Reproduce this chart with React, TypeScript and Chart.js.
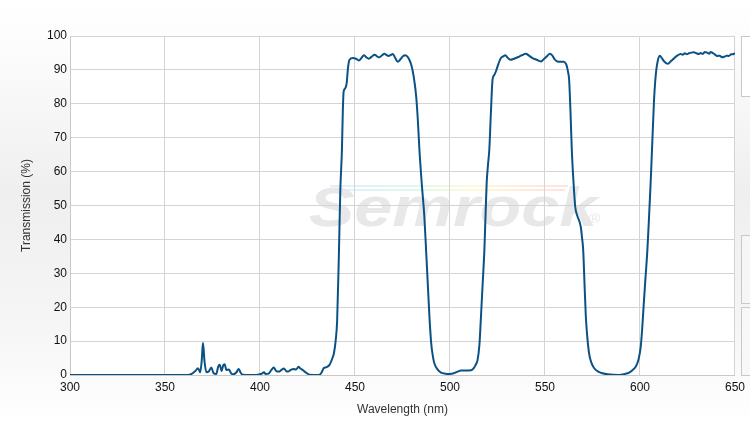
import React, { useEffect, useRef } from "react";
import { Chart, registerables } from "chart.js";

Chart.register(...registerables);

const wavelengths: number[] = [
  300, 362, 364, 366, 367.4, 368.5, 369.3, 370, 370.8, 371.8, 373, 374.4, 375.6, 377, 378, 378.8, 379.8, 380.6, 381.4, 382.3,
  383.7, 384.8, 386, 387.6, 388.8, 389.9, 391, 398, 400, 401.2, 402.1, 403, 404.5, 406, 407.2, 408.5, 409.9, 411.3, 412.6, 413.7,
  414.7, 416.2, 417.7, 418.9, 420.3, 421.3, 422.4, 423.5, 424.5, 426, 431, 432.5, 433.5, 435, 436.6, 437.8, 438.9, 439.8, 440.6, 441.5,
  442.3, 443.1, 443.6, 444, 444.8, 445.6, 446.3, 447.1, 448.9, 450.5, 452, 453.5, 454.7, 456, 457.3, 458.8, 460.3, 461.6, 462.9, 464.2,
  465.5, 466.6, 467.6, 468.8, 469.9, 471.2, 472.5, 474, 475.2, 476.5, 477.6, 478.6, 479.6, 480.4, 481.3, 482.2, 483.1, 483.9, 485.2, 486.5,
  487.4, 488.3, 489.2, 490.1, 491, 491.8, 493.5, 495.3, 497.5, 499.7, 502, 504, 505.8, 508, 511.1, 512.5, 513.5, 514.5, 515.5, 516.3,
  517.2, 518.1, 518.7, 519.3, 520, 520.7, 521.5, 522.4, 523.3, 524.2, 525.5, 526.8, 528, 529.1, 530.5, 531.9, 533.3, 534.7, 536, 537.3,
  538.6, 539.9, 541.6, 543.4, 545.6, 547.8, 548.9, 550, 551.3, 552.5, 553.8, 555, 556.5, 558.3, 560, 561, 561.5, 562.1, 562.7, 563.4,
  564.1, 565, 565.9, 567, 568.8, 569.5, 570.1, 570.8, 571.5, 572.3, 573.2, 574.5, 575.9, 578, 580.3, 583, 589, 592, 594.3, 596,
  597.8, 599.2, 600.4, 601.2, 602.1, 603, 603.9, 604.8, 605.6, 606.5, 607.4, 608, 608.6, 609.4, 610.4, 611.5, 612.7, 613.7, 614.7, 616.3,
  617.9, 619.6, 621.4, 622.5, 623.6, 624.7, 625.8, 627, 628.4, 629.7, 631, 632, 633, 634.2, 635.3, 636.5, 637.2, 638, 639.3, 640.6,
  641.9, 643.2, 644.5, 645.6, 646.7, 648, 649.4, 650,
];

const transmission: number[] = [
  0, 0, 0.3, 1.2, 2, 0.8, 4, 9.5, 4, 0.8, 1, 2.2, 0.5, 0.3, 2.5, 3, 1.2, 2.8, 3.2, 1.5,
  1.6, 0.5, 0.2, 0.8, 1.8, 0.6, 0.1, 0, 0.2, 0.5, 0.8, 0.3, 0.4, 1.5, 2.2, 1.2, 1, 1.5, 1.9, 1.2,
  1, 1.5, 1.8, 1.6, 2.4, 1.9, 1.5, 1, 0.6, 0.1, 0, 0.8, 2.0, 2.3, 3, 4.5, 6.4, 10, 16, 35,
  55, 66, 78, 83.5, 84.5, 86, 90.5, 93, 93.5, 93.3, 92.8, 93.6, 94.3, 93.7, 93.3, 93.9, 94.5, 94, 93.7, 94.3,
  94.8, 94.4, 94.1, 94.4, 94.7, 93.5, 92.4, 93.2, 94, 94.3, 93.9, 93, 91.5, 89.6, 86.5, 82.2, 75, 66.5, 56, 46.8,
  37, 27, 17, 9.4, 5.5, 3.4, 1.6, 0.7, 0.4, 0.3, 0.5, 1, 1.3, 1.3, 1.4, 2, 3, 4.4, 9, 17.2,
  27, 36.9, 47, 56.6, 62, 66.5, 77, 87.1, 88.5, 89.6, 91.8, 93.5, 94, 94.3, 93.5, 93, 93.2, 93.5, 93.8, 94.2,
  94.5, 94.8, 94.2, 93.5, 93, 92.5, 92.9, 93.5, 94.2, 94.8, 94.3, 93.2, 92.5, 92.4, 92.4, 91.8, 91.1, 89.5, 87.1, 78,
  66.5, 57, 49.7, 47, 43.8, 40.5, 36.9, 27, 17.2, 11, 6.4, 3.5, 2, 1, 0.5, 0.2, 0, 0.3, 0.7, 1.4,
  2.5, 4.5, 8.4, 14, 22, 29.5, 37, 47, 56.6, 69, 81.2, 86.5, 90.1, 92.8, 94.2, 93.5, 92.5, 92, 91.8, 92.6,
  93.4, 94.2, 94.7, 94.5, 94.9, 94.6, 94.9, 95.1, 95.2, 94.9, 94.7, 95, 94.7, 95.3, 95.1, 94.8, 95.3, 95.1, 94.6, 94.1,
  94.2, 93.7, 93.9, 94.2, 94.1, 94.6, 94.7, 95,
];

const xTickValues: number[] = [300, 350, 400, 450, 500, 550, 600, 650];
const yTickValues: number[] = [0, 10, 20, 30, 40, 50, 60, 70, 80, 90, 100];

const backgroundPlugin = {
  id: "bgPlugin",
  beforeDraw(chart: any) {
    const { ctx, width, height, chartArea } = chart;
    ctx.save();
    const g = ctx.createLinearGradient(0, 0, 0, height);
    g.addColorStop(0, "#ffffff");
    g.addColorStop(0.12, "#fcfcfc");
    g.addColorStop(0.45, "#efefef");
    g.addColorStop(0.75, "#f5f5f5");
    g.addColorStop(1, "#ffffff");
    ctx.fillStyle = g;
    ctx.fillRect(0, 0, width, height);
    ctx.fillStyle = "#ffffff";
    ctx.fillRect(chartArea.left, chartArea.top, chartArea.right - chartArea.left, chartArea.bottom - chartArea.top);

    // side boxes (partially visible panel)
    const boxes = [
      [741.5, 36.5, 20, 60, "#ffffff"],
      [741.5, 235.5, 20, 68, "#f6f6f6"],
      [741.5, 307.5, 20, 68, "#f8f8f8"],
    ];
    for (const b of boxes) {
      ctx.fillStyle = b[4] as string;
      ctx.fillRect(b[0] as number, b[1] as number, b[2] as number, b[3] as number);
      ctx.strokeStyle = "#c8c8c8";
      ctx.lineWidth = 1;
      ctx.strokeRect(b[0] as number, b[1] as number, b[2] as number, b[3] as number);
    }

    // watermark
    const lg = ctx.createLinearGradient(330, 0, 570, 0);
    lg.addColorStop(0, "rgba(150,200,255,0.3)");
    lg.addColorStop(0.35, "rgba(160,240,200,0.35)");
    lg.addColorStop(0.6, "rgba(255,240,160,0.4)");
    lg.addColorStop(1, "rgba(255,170,170,0.35)");
    ctx.strokeStyle = lg;
    ctx.lineWidth = 2;
    ctx.beginPath();
    ctx.moveTo(330, 186);
    ctx.lineTo(568, 186);
    ctx.moveTo(330, 190);
    ctx.lineTo(565, 190);
    ctx.stroke();

    ctx.translate(453, 226);
    ctx.scale(1.22, 1);
    ctx.font = 'italic bold 56px "Liberation Sans", Arial, sans-serif';
    ctx.textAlign = "center";
    ctx.textBaseline = "alphabetic";
    ctx.fillStyle = "#e8e8e8";
    ctx.fillText("Semrock", 0, 0);
    ctx.font = '13px "Liberation Sans", Arial, sans-serif';
    ctx.fillText("®", 116, -3);
    ctx.restore();
  },
};

export default function App() {
  const canvasRef = useRef<HTMLCanvasElement | null>(null);

  useEffect(() => {
    const canvas = canvasRef.current;
    if (!canvas) return;
    const points = wavelengths.map((w, i) => ({ x: w, y: transmission[i] }));
    const font = { family: '"Liberation Sans", Arial, sans-serif', size: 12 };
    const chart = new Chart(canvas, {
      type: "line",
      data: {
        datasets: [
          {
            data: points,
            borderColor: "#0b5284",
            borderWidth: 2,
            pointRadius: 0,
            cubicInterpolationMode: "monotone",
            fill: false,
          },
        ],
      },
      options: {
        responsive: false,
        animation: false,
        layout: { padding: { top: 36, right: 14, bottom: 0, left: 0 } },
        plugins: { legend: { display: false }, tooltip: { enabled: false } },
        scales: {
          x: {
            type: "linear",
            min: 300,
            max: 650,
            afterFit: (s: any) => {
              s.height = 50;
            },
            afterBuildTicks: (s: any) => {
              s.ticks = xTickValues.map((v) => ({ value: v }));
            },
            ticks: { color: "#111", font, padding: 5, maxRotation: 0, autoSkip: false },
            grid: { color: "#d4d4d4", drawTicks: false },
            border: { color: "#c8c8c8" },
            title: { display: true, text: "Wavelength (nm)", color: "#333", font, padding: { top: 0, bottom: 8 } },
          },
          y: {
            type: "linear",
            min: 0,
            max: 100,
            afterFit: (s: any) => {
              s.width = 70;
            },
            afterBuildTicks: (s: any) => {
              s.ticks = yTickValues.map((v) => ({ value: v }));
            },
            ticks: { color: "#111", font, padding: 3 },
            grid: { color: "#d4d4d4", drawTicks: false },
            border: { color: "#c8c8c8" },
            title: { display: true, text: "Transmission (%)", color: "#333", font, padding: { top: 19, bottom: 0 } },
          },
        },
      },
      plugins: [backgroundPlugin],
    } as any);
    return () => chart.destroy();
  }, []);

  return (
    <div style={{ position: "absolute", left: 0, top: 0, width: 750, height: 425 }}>
      <canvas ref={canvasRef} width={750} height={425} style={{ display: "block" }} />
    </div>
  );
}
